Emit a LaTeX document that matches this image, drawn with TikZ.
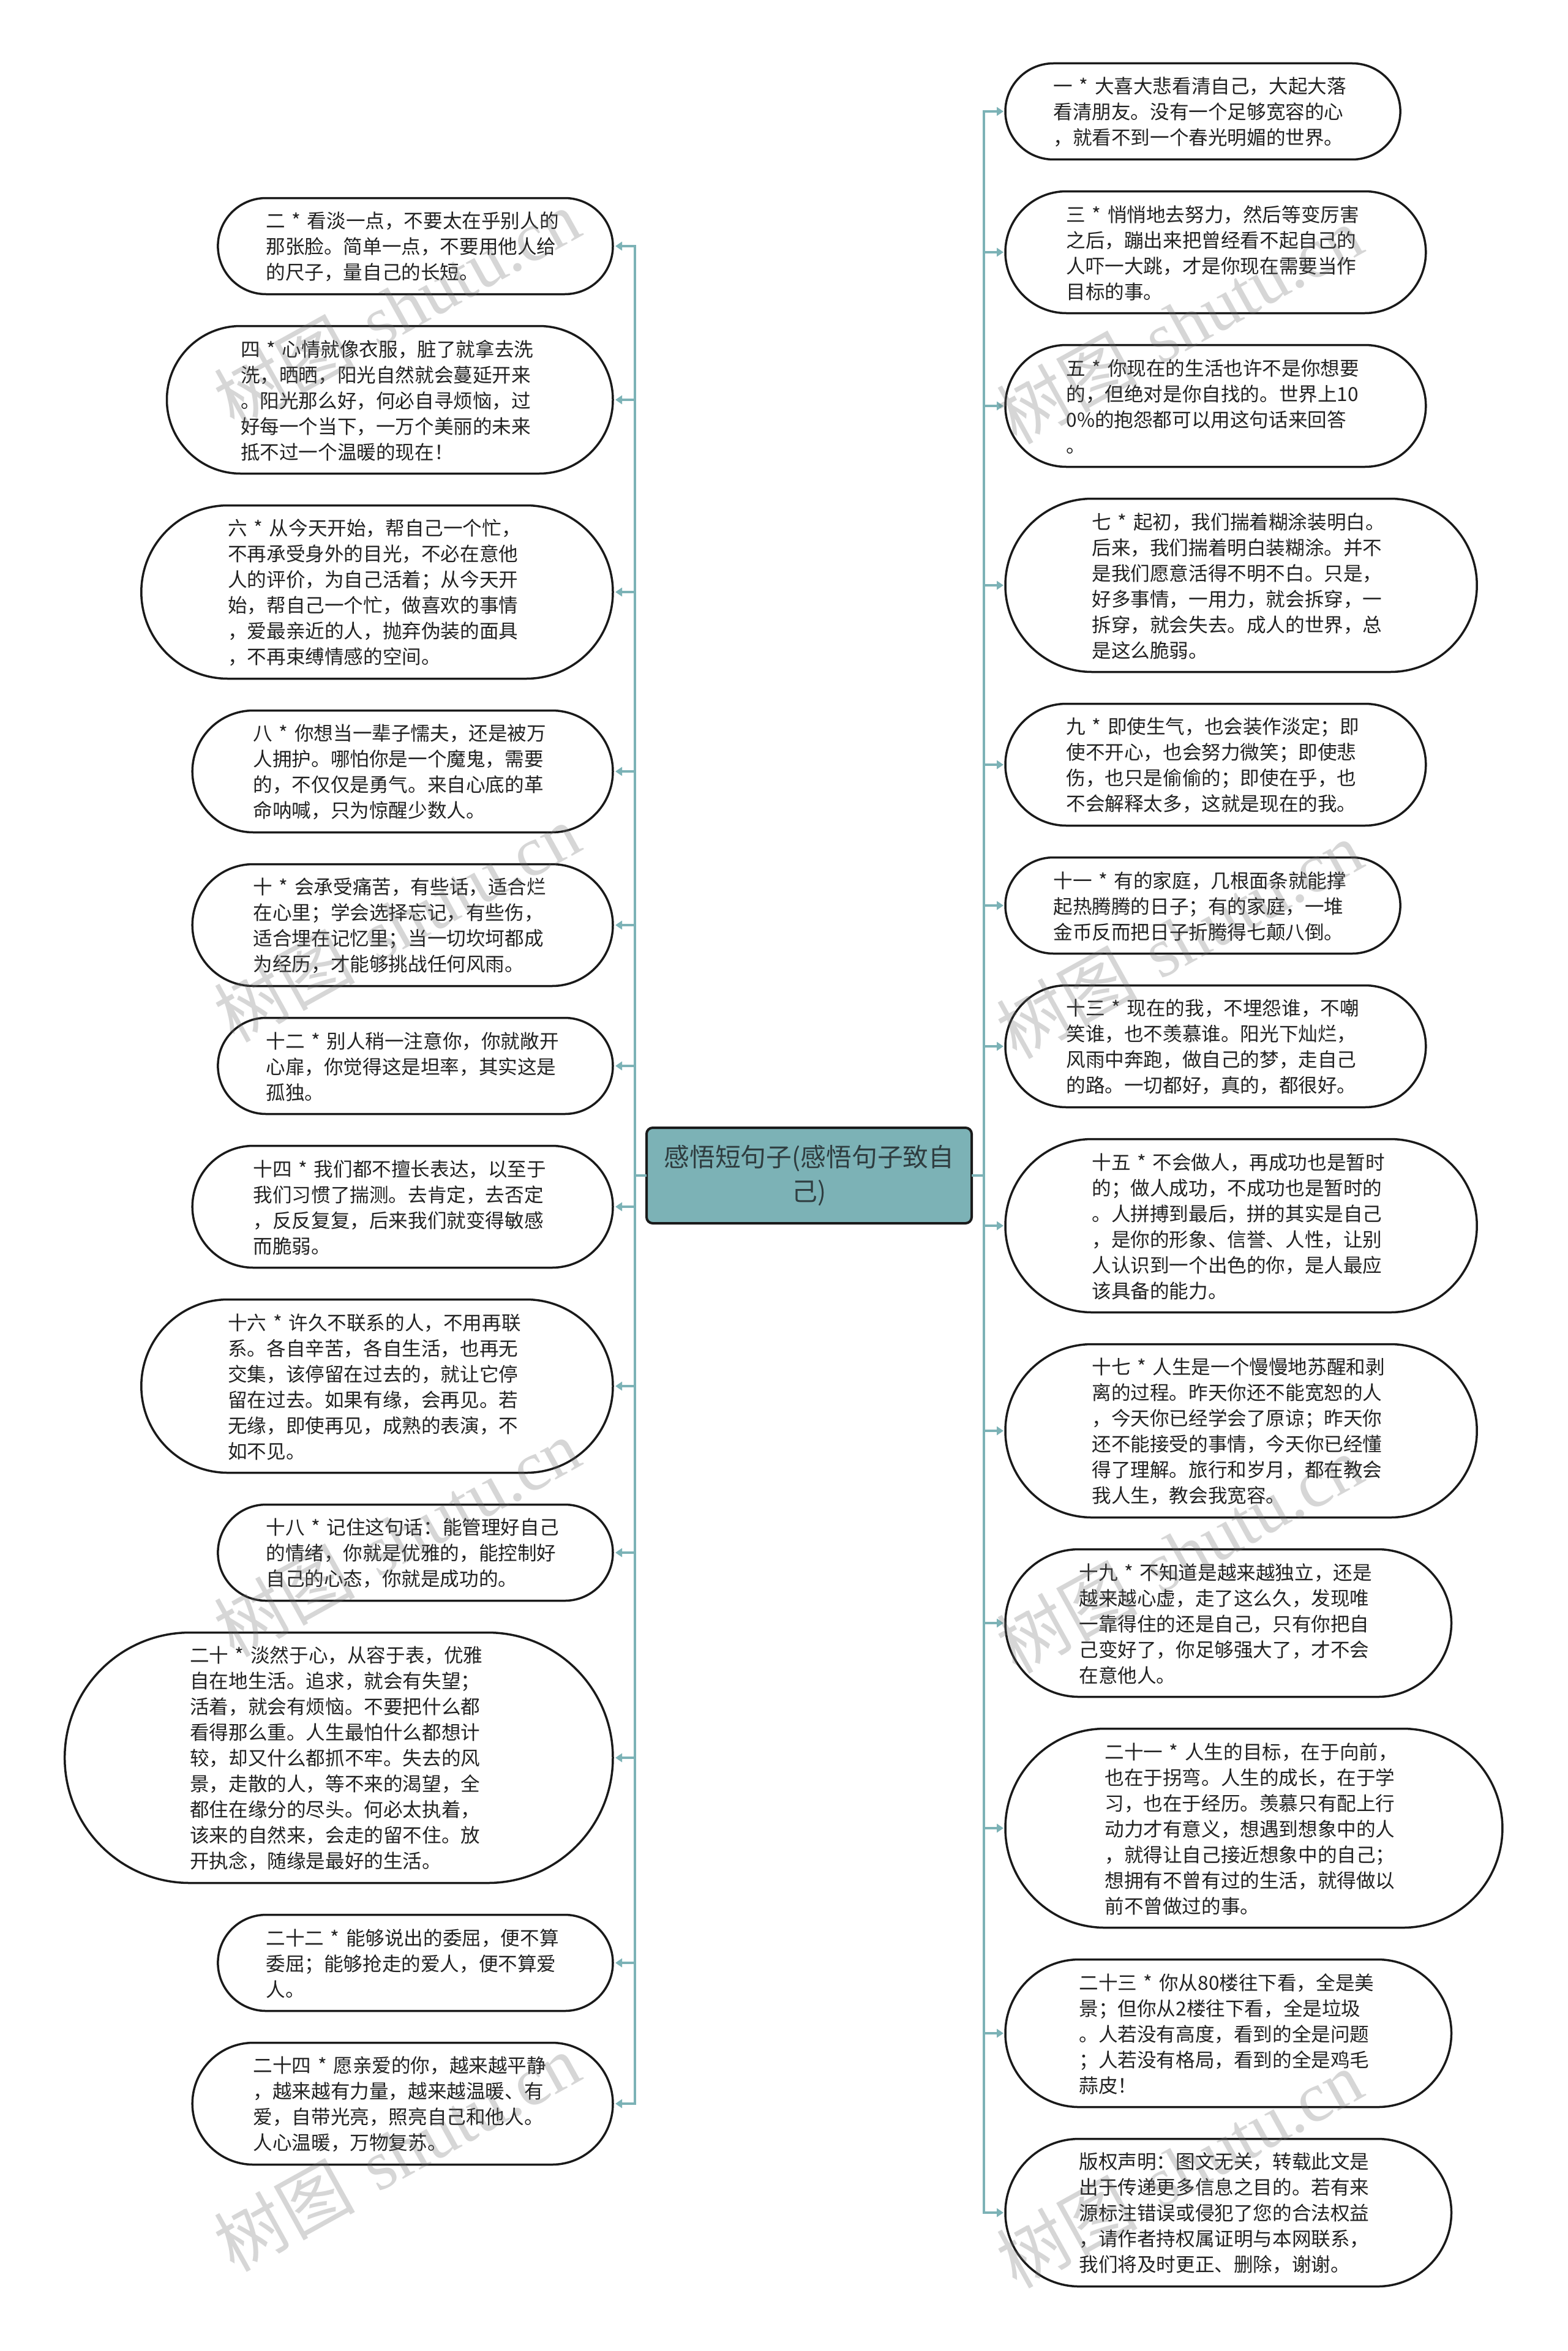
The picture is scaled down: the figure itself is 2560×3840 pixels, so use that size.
\documentclass[tikz,border=0pt]{standalone}
\usepackage{fontspec}
\setmainfont[WordSpace=1.5]{Noto Sans CJK SC}
\newfontfamily\wmlatin{Liberation Serif}
\usetikzlibrary{shapes.misc,arrows.meta}
\definecolor{teal}{HTML}{7CB2B6}
\definecolor{rootink}{HTML}{2F3D40}
\definecolor{boxink}{HTML}{1A1A1A}
\definecolor{bodyink}{HTML}{222222}
\definecolor{wmgrey}{HTML}{6E6E6E}
\tikzset{
  pill/.style={draw=boxink,line width=3.5pt,fill=white,rounded rectangle,inner sep=0pt,outer sep=0pt},
  txt/.style={text=bodyink,inner sep=0pt,outer sep=0pt,align=left,font=\fontsize{31.6}{42}\selectfont},
  rootbox/.style={draw=boxink,line width=4pt,fill=teal,rounded corners=10pt,inner sep=0pt,outer sep=0pt,
    minimum width=531pt,minimum height=156pt,align=center,text=rootink,text width=520pt,font=\fontsize{41.8}{56}\selectfont},
  conn/.style={draw=teal,line width=3.2pt},
  arrowL/.style={conn,-{Triangle[length=11pt,width=14pt]},shorten >=4pt},
  arrowR/.style={conn,-{Triangle[length=11pt,width=14pt]},shorten >=3pt},
  wmark/.style={text=wmgrey,opacity=.28,text opacity=.28,rotate=29,inner sep=0pt,font=\fontsize{115}{115}\selectfont}
}
\newcommand{\leftpill}[4]{%
  \pgfmathsetmacro{\hh}{42*#3+31}%
  \pgfmathsetmacro{\ww}{520+41.7*#3}%
  \pgfmathsetmacro{\xc}{1001-\ww/2}%
  \pgfmathsetmacro{\xx}{1001-\ww+\hh/2}%
  \pgfmathsetmacro{\yy}{#2+\hh/2+1}%
  \node[pill,minimum width=\ww pt,minimum height=\hh pt] (#1) at (\xc,#2+\hh/2) {};%
  \node[txt,anchor=west] (#1t) at (\xx,\yy) {#4};%
  \draw[arrowL] (root.west) -- (ltrunk) |- (#1.east);%
}
\newcommand{\rightpill}[4]{%
  \pgfmathsetmacro{\hh}{42*#3+31}%
  \pgfmathsetmacro{\ww}{520+41.7*#3}%
  \pgfmathsetmacro{\xc}{1642+\ww/2}%
  \pgfmathsetmacro{\xx}{1642+\hh/2}%
  \pgfmathsetmacro{\yy}{#2+\hh/2+1}%
  \node[pill,minimum width=\ww pt,minimum height=\hh pt] (#1) at (\xc,#2+\hh/2) {};%
  \node[txt,anchor=west] (#1t) at (\xx,\yy) {#4};%
  \draw[arrowR] (root.east) -- (rtrunk) |- (#1.west);%
}
\begin{document}
\begin{tikzpicture}[x=1pt,y=-1pt]
\useasboundingbox (0,0) rectangle (2560,3840);
\fill[white] (0,0) rectangle (2560,3840);
\node[rootbox] (root) at (1321.5,1920) {感悟短句子(感悟句子致自\\己)};
\coordinate (ltrunk) at (1037,1920);
\coordinate (rtrunk) at (1607,1920);

\leftpill{l1}{323.5}{3}{二 * 看淡一点，不要太在乎别人的\\那张脸。简单一点，不要用他人给\\的尺子，量自己的长短。}
\leftpill{l2}{532.5}{5}{四 * 心情就像衣服，脏了就拿去洗\\洗，晒晒，阳光自然就会蔓延开来\\。阳光那么好，何必自寻烦恼，过\\好每一个当下，一万个美丽的未来\\抵不过一个温暖的现在！}
\leftpill{l3}{825.5}{6}{六 * 从今天开始，帮自己一个忙，\\不再承受身外的目光，不必在意他\\人的评价，为自己活着；从今天开\\始，帮自己一个忙，做喜欢的事情\\，爱最亲近的人，抛弃伪装的面具\\，不再束缚情感的空间。}
\leftpill{l4}{1160.5}{4}{八 * 你想当一辈子懦夫，还是被万\\人拥护。哪怕你是一个魔鬼，需要\\的，不仅仅是勇气。来自心底的革\\命呐喊，只为惊醒少数人。}
\leftpill{l5}{1411.5}{4}{十 * 会承受痛苦，有些话，适合烂\\在心里；学会选择忘记，有些伤，\\适合埋在记忆里；当一切坎坷都成\\为经历，才能够挑战任何风雨。}
\leftpill{l6}{1662.5}{3}{十二 * 别人稍一注意你，你就敞开\\心扉，你觉得这是坦率，其实这是\\孤独。}
\leftpill{l7}{1871.5}{4}{十四 * 我们都不擅长表达，以至于\\我们习惯了揣测。去肯定，去否定\\，反反复复，后来我们就变得敏感\\而脆弱。}
\leftpill{l8}{2122.5}{6}{十六 * 许久不联系的人，不用再联\\系。各自辛苦，各自生活，也再无\\交集，该停留在过去的，就让它停\\留在过去。如果有缘，会再见。若\\无缘，即使再见，成熟的表演，不\\如不见。}
\leftpill{l9}{2457.5}{3}{十八 * 记住这句话：能管理好自己\\的情绪，你就是优雅的，能控制好\\自己的心态，你就是成功的。}
\leftpill{l10}{2666.5}{9}{二十 * 淡然于心，从容于表，优雅\\自在地生活。追求，就会有失望；\\活着，就会有烦恼。不要把什么都\\看得那么重。人生最怕什么都想计\\较，却又什么都抓不牢。失去的风\\景，走散的人，等不来的渴望，全\\都住在缘分的尽头。何必太执着，\\该来的自然来，会走的留不住。放\\开执念，随缘是最好的生活。}
\leftpill{l11}{3127.5}{3}{二十二 * 能够说出的委屈，便不算\\委屈；能够抢走的爱人，便不算爱\\人。}
\leftpill{l12}{3336.5}{4}{二十四 * 愿亲爱的你，越来越平静\\，越来越有力量，越来越温暖、有\\爱，自带光亮，照亮自己和他人。\\人心温暖，万物复苏。}

\rightpill{r1}{103.5}{3}{一 * 大喜大悲看清自己，大起大落\\看清朋友。没有一个足够宽容的心\\，就看不到一个春光明媚的世界。}
\rightpill{r2}{312.5}{4}{三 * 悄悄地去努力，然后等变厉害\\之后，蹦出来把曾经看不起自己的\\人吓一大跳，才是你现在需要当作\\目标的事。}
\rightpill{r3}{563.5}{4}{五 * 你现在的生活也许不是你想要\\的，但绝对是你自找的。世界上10\\0\%的抱怨都可以用这句话来回答\\。}
\rightpill{r4}{814.5}{6}{七 * 起初，我们揣着糊涂装明白。\\后来，我们揣着明白装糊涂。并不\\是我们愿意活得不明不白。只是，\\好多事情，一用力，就会拆穿，一\\拆穿，就会失去。成人的世界，总\\是这么脆弱。}
\rightpill{r5}{1149.5}{4}{九 * 即使生气，也会装作淡定；即\\使不开心，也会努力微笑；即使悲\\伤，也只是偷偷的；即使在乎，也\\不会解释太多，这就是现在的我。}
\rightpill{r6}{1400.5}{3}{十一 * 有的家庭，几根面条就能撑\\起热腾腾的日子；有的家庭，一堆\\金币反而把日子折腾得七颠八倒。}
\rightpill{r7}{1609.5}{4}{十三 * 现在的我，不埋怨谁，不嘲\\笑谁，也不羡慕谁。阳光下灿烂，\\风雨中奔跑，做自己的梦，走自己\\的路。一切都好，真的，都很好。}
\rightpill{r8}{1860.5}{6}{十五 * 不会做人，再成功也是暂时\\的；做人成功，不成功也是暂时的\\。人拼搏到最后，拼的其实是自己\\，是你的形象、信誉、人性，让别\\人认识到一个出色的你，是人最应\\该具备的能力。}
\rightpill{r9}{2195.5}{6}{十七 * 人生是一个慢慢地苏醒和剥\\离的过程。昨天你还不能宽恕的人\\，今天你已经学会了原谅；昨天你\\还不能接受的事情，今天你已经懂\\得了理解。旅行和岁月，都在教会\\我人生，教会我宽容。}
\rightpill{r10}{2530.5}{5}{十九 * 不知道是越来越独立，还是\\越来越心虚，走了这么久，发现唯\\一靠得住的还是自己，只有你把自\\己变好了，你足够强大了，才不会\\在意他人。}
\rightpill{r11}{2823.5}{7}{二十一 * 人生的目标，在于向前，\\也在于拐弯。人生的成长，在于学\\习，也在于经历。羡慕只有配上行\\动力才有意义，想遇到想象中的人\\，就得让自己接近想象中的自己；\\想拥有不曾有过的生活，就得做以\\前不曾做过的事。}
\rightpill{r12}{3200.5}{5}{二十三 * 你从80楼往下看，全是美\\景；但你从2楼往下看，全是垃圾\\。人若没有高度，看到的全是问题\\；人若没有格局，看到的全是鸡毛\\蒜皮！}
\rightpill{r13}{3493.5}{5}{版权声明：图文无关，转载此文是\\出于传递更多信息之目的。若有来\\源标注错误或侵犯了您的合法权益\\，请作者持权属证明与本网联系，\\我们将及时更正、删除，谢谢。}

\foreach \wx/\wy/\wn in {648/503/a,648/1507/b,648/2511/c,648/3515/d,1926/530/e,1926/1534/f,1926/2538/g,1926/3542/h}{
  \node[wmark] (wm\wn) at (\wx,\wy) {树图 {\wmlatin shutu.cn}};
}
\end{tikzpicture}
\end{document}
